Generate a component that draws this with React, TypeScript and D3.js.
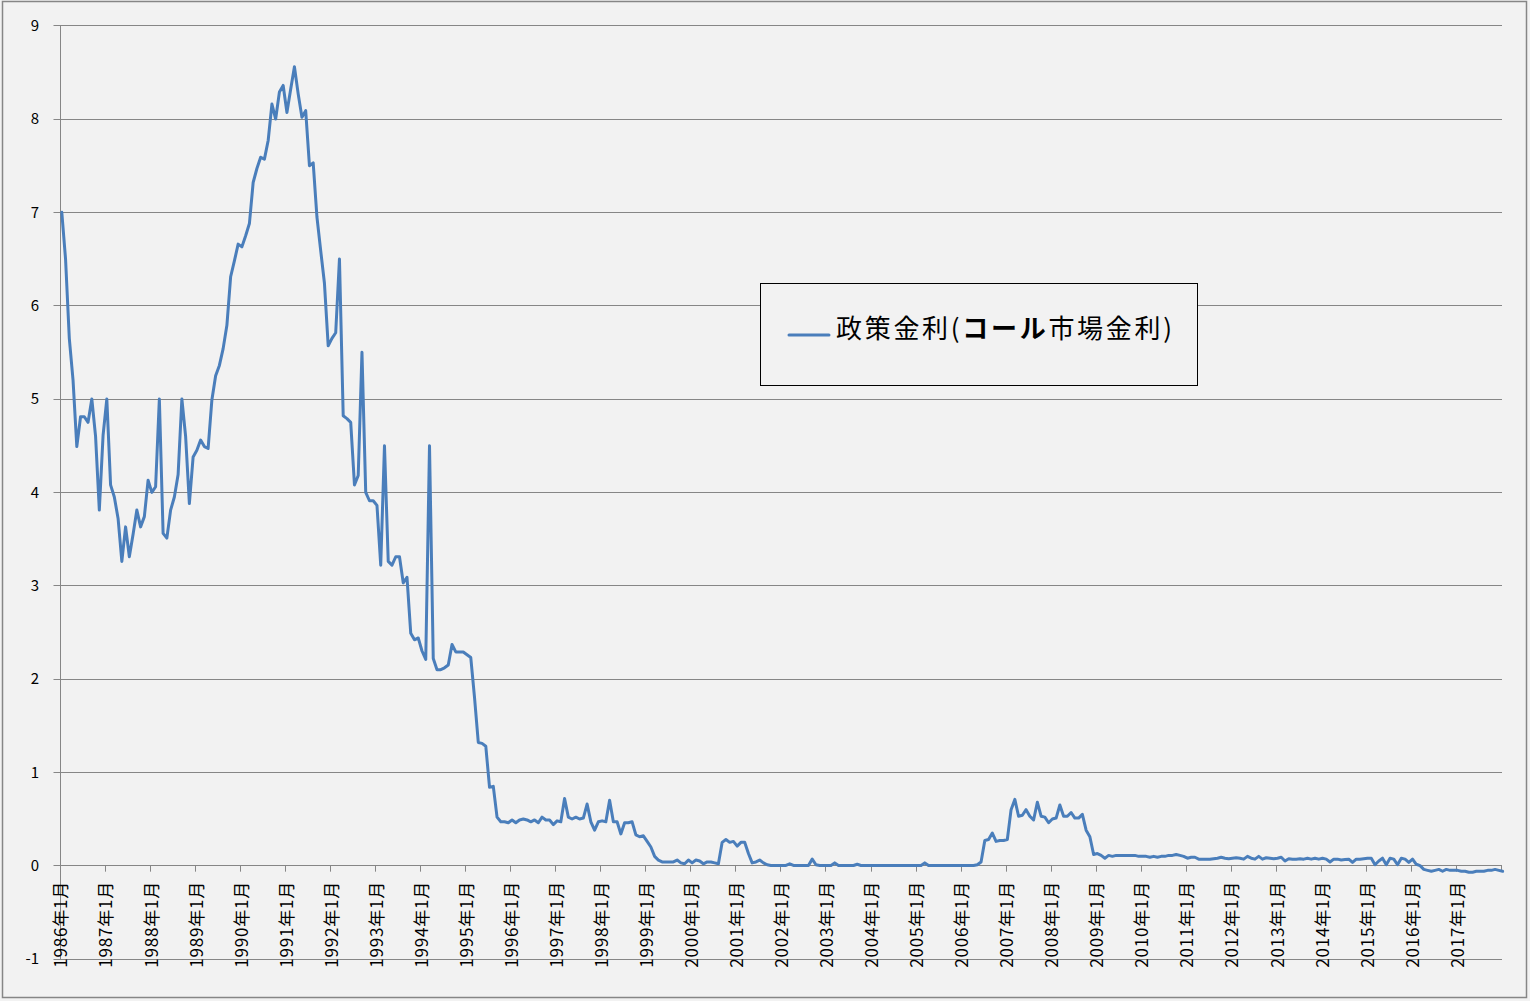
import React from 'react';
import * as d3 from 'd3';

// ---- data: monthly call rate (%), 1986年1月 ..
const rate1986 = [7.0, 6.5, 5.65, 5.2, 4.49, 4.81, 4.81, 4.75, 5.0, 4.6, 3.81, 4.61];
const rate1987 = [5.0, 4.08, 3.95, 3.72, 3.26, 3.63, 3.31, 3.55, 3.81, 3.63, 3.74, 4.13];
const rate1988 = [4.0, 4.06, 5.0, 3.56, 3.51, 3.81, 3.95, 4.19, 5.0, 4.6, 3.88, 4.38];
const rate1989 = [4.45, 4.56, 4.49, 4.47, 4.99, 5.25, 5.36, 5.54, 5.79, 6.31, 6.48, 6.66];
const rate1990 = [6.63, 6.75, 6.88, 7.32, 7.47, 7.59, 7.57, 7.77, 8.16, 8.0, 8.29, 8.36];
const rate1991 = [8.07, 8.32, 8.56, 8.27, 8.02, 8.09, 7.5, 7.53, 6.95, 6.59, 6.24, 5.57];
const rate1992 = [5.65, 5.71, 6.5, 4.82, 4.79, 4.75, 4.08, 4.18, 5.5, 4.0, 3.91, 3.91];
const rate1993 = [3.86, 3.22, 4.5, 3.26, 3.22, 3.31, 3.31, 3.03, 3.09, 2.49, 2.42, 2.44];
const rate1994 = [2.3, 2.21, 4.5, 2.22, 2.1, 2.1, 2.12, 2.15, 2.37, 2.29, 2.29, 2.29];
const rate1995 = [2.26, 2.23, 1.8, 1.32, 1.31, 1.28, 0.84, 0.85, 0.52, 0.47, 0.47, 0.46];
const rate1996 = [0.49, 0.46, 0.49, 0.5, 0.49, 0.47, 0.49, 0.46, 0.52, 0.49, 0.49, 0.44];
const rate1997 = [0.48, 0.47, 0.72, 0.52, 0.5, 0.52, 0.5, 0.51, 0.66, 0.47, 0.38, 0.47];
const rate1998 = [0.48, 0.47, 0.7, 0.47, 0.47, 0.34, 0.46, 0.46, 0.47, 0.33, 0.31, 0.32];
const rate1999 = [0.26, 0.2, 0.1, 0.06, 0.04, 0.04, 0.04, 0.04, 0.06, 0.03, 0.02, 0.06];
const rate2000 = [0.03, 0.06, 0.05, 0.02, 0.04, 0.04, 0.03, 0.02, 0.25, 0.28, 0.25, 0.26];
const rate2001 = [0.21, 0.25, 0.25, 0.13, 0.03, 0.04, 0.06, 0.03, 0.01, 0.002, 0.002, 0.002];
const rate2002 = [0.002, 0.002, 0.02, 0.002, 0.002, 0.002, 0.002, 0.002, 0.07, 0.01, 0.002, 0.002];
const rate2003 = [0.002, 0.002, 0.03, 0.002, 0.002, 0.002, 0.002, 0.002, 0.015, 0.002, 0.002, 0.002];
const rate2004 = [0.001, 0.001, 0.001, 0.001, 0.001, 0.001, 0.001, 0.001, 0.001, 0.001, 0.001, 0.001];
const rate2005 = [0.001, 0.001, 0.03, 0.001, 0.001, 0.001, 0.001, 0.001, 0.001, 0.001, 0.001, 0.001];
const rate2006 = [0.001, 0.001, 0.001, 0.001, 0.01, 0.04, 0.27, 0.28, 0.35, 0.26, 0.27, 0.27];
const rate2007 = [0.28, 0.6, 0.71, 0.53, 0.54, 0.6, 0.53, 0.49, 0.68, 0.53, 0.52, 0.46];
const rate2008 = [0.5, 0.51, 0.65, 0.53, 0.53, 0.57, 0.51, 0.51, 0.55, 0.38, 0.31, 0.12];
const rate2009 = [0.13, 0.11, 0.08, 0.11, 0.1, 0.11, 0.11, 0.11, 0.11, 0.11, 0.11, 0.1];
const rate2010 = [0.1, 0.1, 0.09, 0.1, 0.09, 0.1, 0.1, 0.11, 0.11, 0.12, 0.11, 0.1];
const rate2011 = [0.08, 0.09, 0.09, 0.07, 0.07, 0.07, 0.07, 0.075, 0.08, 0.09, 0.08, 0.075];
const rate2012 = [0.08, 0.085, 0.08, 0.07, 0.1, 0.08, 0.07, 0.1, 0.07, 0.085, 0.08, 0.075];
const rate2013 = [0.08, 0.09, 0.05, 0.075, 0.07, 0.07, 0.075, 0.07, 0.08, 0.07, 0.08, 0.07];
const rate2014 = [0.08, 0.07, 0.04, 0.07, 0.07, 0.06, 0.065, 0.07, 0.035, 0.07, 0.07, 0.075];
const rate2015 = [0.08, 0.08, 0.01, 0.05, 0.08, 0.01, 0.08, 0.07, 0.01, 0.08, 0.07, 0.035];
const rate2016 = [0.07, 0.015, 0.0, -0.04, -0.05, -0.06, -0.05, -0.04, -0.06, -0.04, -0.05, -0.05];
const rate2017 = [-0.05, -0.06, -0.06, -0.07, -0.07, -0.06, -0.06, -0.06, -0.05, -0.05, -0.04, -0.05];
const rate2018 = [-0.06];

const startYear = 1986;
const callRate: number[] = [
  rate1986, rate1987, rate1988, rate1989, rate1990, rate1991, rate1992, rate1993,
  rate1994, rate1995, rate1996, rate1997, rate1998, rate1999, rate2000, rate2001,
  rate2002, rate2003, rate2004, rate2005, rate2006, rate2007, rate2008, rate2009,
  rate2010, rate2011, rate2012, rate2013, rate2014, rate2015, rate2016, rate2017, rate2018,
].flat();

const yTicks = [-1, 0, 1, 2, 3, 4, 5, 6, 7, 8, 9];
const labelYears = d3.range(1986, 2018);
const seriesNameA = '政策金利(';
const seriesNameB = 'コール';
const seriesNameC = '市場金利)';

const FONT = "'Noto Sans CJK JP', 'Noto Sans', sans-serif";

export default function App() {
  const W = 1530;
  const H = 1001;
  const plotLeft = 60.5;
  const plotRight = 1502;
  // category positions of the monthly points
  const x = d3.scaleLinear().domain([0, callRate.length - 1]).range([61.8, 1502.6]);
  // axis tick positions (tick marks sit slightly left of the point centres)
  const xt = d3.scaleLinear().domain([0, callRate.length - 1]).range([60.3, 1501.6]);
  const y = d3.scaleLinear().domain([-1, 9]).range([959, 25.7]);
  const line = d3
    .line<number>()
    .x((_, i) => x(i))
    .y((d) => y(d));
  const crisp = (v: number) => Math.floor(v) + 0.5;
  const tickIdx = d3.range(0, callRate.length, 12);
  const grid = '#868686';

  return (
    <svg
      width={W}
      height={H}
      style={{ position: 'absolute', left: 0, top: 0, display: 'block' }}
      fontFamily={FONT}
    >
      <rect x={0} y={0} width={W} height={H} fill="#f2f2f2" />
      <rect x={2.5} y={1.5} width={1524} height={996} fill="#f2f2f2" stroke={grid} strokeWidth={1.5} />

      {/* horizontal gridlines + y tick marks */}
      {yTicks.map((t) => (
        <g key={t}>
          <line x1={plotLeft - 7} x2={plotRight} y1={crisp(y(t))} y2={crisp(y(t))} stroke={grid} strokeWidth={1} />
          <text x={39} y={y(t)} dy="0.36em" textAnchor="end" fontSize={15} fill="#000">
            {t}
          </text>
        </g>
      ))}

      {/* y axis line */}
      <line x1={plotLeft} x2={plotLeft} y1={y(9)} y2={y(-1)} stroke={grid} strokeWidth={1} />

      {/* x axis ticks */}
      {tickIdx.map((i) => (
        <line key={i} x1={crisp(xt(i))} x2={crisp(xt(i))} y1={y(0)} y2={y(0) + 6} stroke={grid} strokeWidth={1} />
      ))}
      {labelYears.map((yr) => {
        const i = (yr - startYear) * 12;
        const px = xt(i);
        const py = 881;
        return (
          <text
            key={yr}
            transform={`translate(${px},${py}) rotate(-90)`}
            dy="0.42em"
            textAnchor="end"
            fontSize={17}
            letterSpacing={0.8}
            fill="#000"
          >
            {`${yr}年1月`}
          </text>
        );
      })}

      {/* series line */}
      <path d={line(callRate) || ''} fill="none" stroke="#4a7ebb" strokeWidth={3} strokeLinejoin="round" strokeLinecap="round" />

      {/* legend */}
      <rect x={760.5} y={283.5} width={437} height={102} fill="#f2f2f2" stroke="#000" strokeWidth={1} />
      <line x1={789} x2={829} y1={335} y2={335} stroke="#4a7ebb" strokeWidth={3} strokeLinecap="round" />
      <text x={836} y={338} fontSize={26} letterSpacing={2.7} fill="#000">
        {seriesNameA}
        <tspan fontWeight="bold">{seriesNameB}</tspan>
        {seriesNameC}
      </text>
    </svg>
  );
}
